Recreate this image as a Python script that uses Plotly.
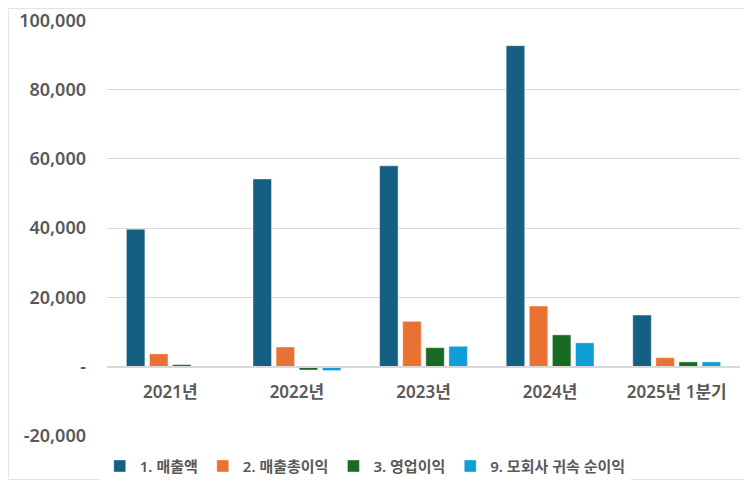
import plotly.graph_objects as go

categories = ["2021년", "2022년", "2023년", "2024년", "2025년 1분기"]
revenue = [39700, 54200, 58000, 92700, 14900]
gross_profit = [3700, 5700, 13100, 17500, 2600]
operating_profit = [600, -950, 5500, 9200, 1400]
net_income = [0, -1100, 5900, 6900, 1400]

series_names = ["1. 매출액", "2. 매출총이익", "3. 영업이익", "9. 모회사 귀속 순이익"]
series_colors = ["#156082", "#E97132", "#196B24", "#0F9ED5"]

y_ticks = [-20000, 0, 20000, 40000, 60000, 80000, 100000]
y_tick_text = ["-20,000", "-", "20,000", "40,000", "60,000", "80,000", "100,000"]

font_family = "Noto Sans, Noto Sans CJK KR, sans-serif"

fig = go.Figure()
for name, vals, color in zip(series_names, [revenue, gross_profit, operating_profit, net_income], series_colors):
    fig.add_trace(go.Bar(x=categories, y=vals, name=name,
                         marker=dict(color=color, line=dict(color="rgba(255,255,255,0.4)", width=1))))

# zero position of the axis within the plot (range -20k..100k)
zero_pos = 20000 / 120000

# page body has an 8px margin, so the figure starts 8px in from the window edge
fig.update_layout(
    width=744, height=472,
    margin=dict(l=99, r=12, t=12, b=44, autoexpand=False),
    paper_bgcolor="white", plot_bgcolor="white",
    barmode="group", bargap=0.27, bargroupgap=0.2,
    font=dict(family=font_family, color="#595959"),
    legend=dict(orientation="h", x=0.408, xanchor="center", y=-0.033, yanchor="top",
                font=dict(size=15, color="#595959", family=font_family, weight=600),
                itemwidth=30, traceorder="normal"),
    xaxis=dict(anchor="free", position=zero_pos, showline=True, linecolor="#d9d9d9", linewidth=1.5,
               ticks="outside", ticklen=10, tickcolor="rgba(0,0,0,0)", automargin=False,
               tickfont=dict(size=17, color="#595959", family=font_family, weight=600), showgrid=False),
    yaxis=dict(range=[-20000, 100100], tickvals=y_ticks, ticktext=y_tick_text, automargin=False,
               showgrid=True, gridcolor="#d9d9d9", gridwidth=1, zeroline=False,
               ticklabeloverflow="allow",
               tickfont=dict(size=18, color="#595959", family=font_family, weight=600),
               ticklabelstandoff=20),
    shapes=[dict(type="rect", xref="paper", yref="paper",
                 x0=-98.5 / 633, x1=1 + 11 / 633, y0=-43.5 / 416, y1=1 + 11.5 / 416,
                 line=dict(color="#e3e3e3", width=1), layer="below")],
)

fig.write_html("out.html")
